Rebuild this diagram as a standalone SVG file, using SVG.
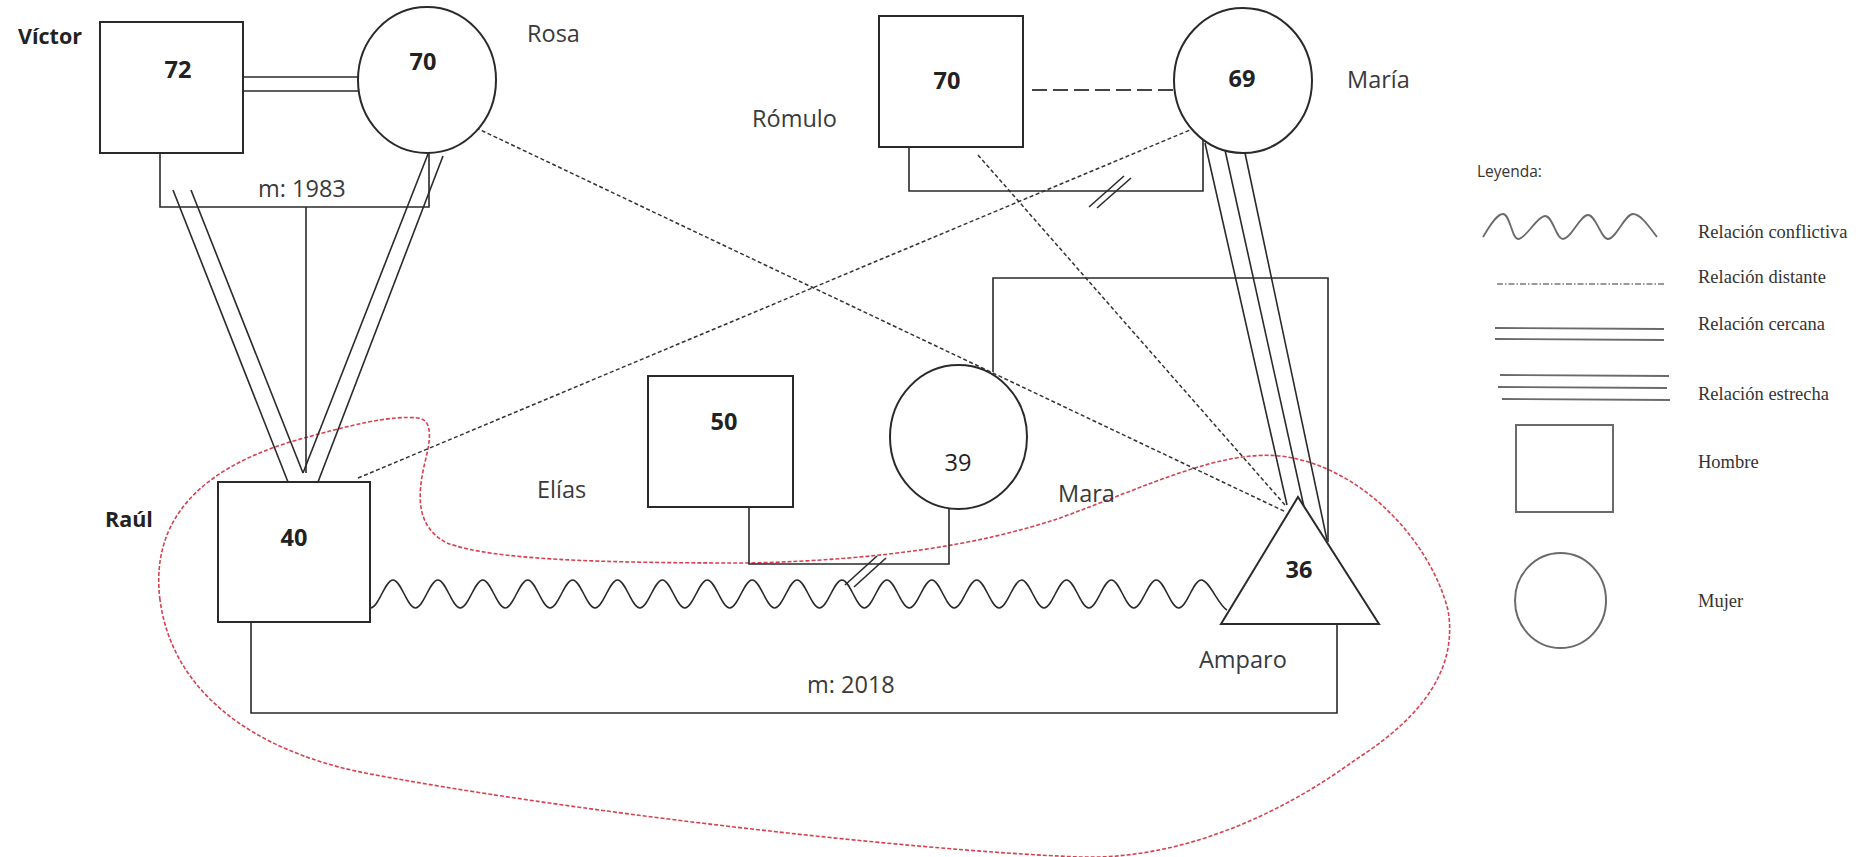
<svg xmlns="http://www.w3.org/2000/svg" width="1874" height="857" viewBox="0 0 1874 857">
  <style>
    .shape { fill: #ffffff; stroke: #2a2a2a; stroke-width: 2; }
    .line { fill: none; stroke: #2a2a2a; stroke-width: 1.6; }
    .distant { fill: none; stroke: #333333; stroke-width: 1.5; stroke-dasharray: 4 2.5; }
    .broken { fill: none; stroke: #444444; stroke-width: 1.8; stroke-dasharray: 15 6; }
    .boundary { fill: none; stroke: #d8404f; stroke-width: 1.6; stroke-dasharray: 4 2; }
    .name { font-family: "Open Sans", "Liberation Sans", sans-serif; font-size: 23.5px; fill: #3a3a3a; }
    .bname { font-family: "Open Sans", "Liberation Sans", sans-serif; font-size: 21.5px; font-weight: bold; fill: #222222; }
    .age { font-family: "Open Sans", "Liberation Sans", sans-serif; font-size: 23.5px; font-weight: bold; fill: #222222; text-anchor: middle; }
    .age-light { font-family: "Open Sans", "Liberation Sans", sans-serif; font-size: 23.5px; fill: #222222; text-anchor: middle; }
    .leg-line { fill: none; stroke: #6a6a6a; stroke-width: 1.8; }
    .leg-shape { fill: none; stroke: #6a6a6a; stroke-width: 2; }
    .leg-text { font-family: "Liberation Serif", "Times New Roman", serif; font-size: 18.5px; fill: #333333; }
    .leg-title { font-family: "Open Sans", "Liberation Sans", sans-serif; font-size: 15.5px; fill: #333333; }
  </style>

  <rect width="1874" height="857" fill="#ffffff"/>

  <!-- household boundary -->
  <path id="boundary" class="boundary" d="M160,600 C150,520 200,470 290,442 C350,425 390,415 418,418 C434,420 430,442 425,462 C418,492 414,526 447,543 C492,560 600,563 750,563 C880,560 980,545 1060,518 C1150,485 1220,450 1280,456 C1360,465 1430,540 1448,610 C1460,680 1405,728 1355,760 C1280,815 1180,860 1080,857 C900,850 560,810 365,773 C250,750 172,690 160,600 Z"/>

  <!-- relationships and family lines -->
  <g id="connectors">
    <!-- Víctor – Rosa: close -->
    <line class="line" x1="243" y1="77" x2="359" y2="77"/>
    <line class="line" x1="243" y1="91" x2="359" y2="91"/>
    <!-- marriage Víctor & Rosa -->
    <polyline class="line" points="160,153 160,207 429,207 429,153"/>
    <line class="line" x1="306" y1="207" x2="306" y2="473"/>
    <!-- Víctor – Raúl: close -->
    <line class="line" x1="173" y1="190" x2="288" y2="482"/>
    <line class="line" x1="191" y1="190" x2="303" y2="473"/>
    <!-- Rosa – Raúl: close -->
    <line class="line" x1="428" y1="154" x2="303" y2="473"/>
    <line class="line" x1="443" y1="156" x2="318" y2="482"/>

    <!-- Rómulo – María: broken -->
    <line class="broken" x1="1032" y1="90" x2="1182" y2="90"/>
    <!-- marriage Rómulo & María, divorced -->
    <polyline class="line" points="909,147 909,191 1203,191 1203,140"/>
    <line class="line" x1="1089" y1="207" x2="1124" y2="176"/>
    <line class="line" x1="1097" y1="208" x2="1131" y2="178"/>

    <!-- María – Amparo: very close -->
    <line class="line" x1="1205" y1="143" x2="1287" y2="505"/>
    <line class="line" x1="1225" y1="150" x2="1304" y2="507"/>
    <line class="line" x1="1245" y1="153" x2="1327" y2="540"/>

    <!-- distant -->
    <line class="distant" x1="470" y1="125" x2="1286" y2="512"/>
    <line class="distant" x1="978" y1="155" x2="1285" y2="505"/>
    <line class="distant" x1="358" y1="478" x2="1190" y2="130"/>

    <!-- Mara – Amparo -->
    <polyline class="line" points="993,372 993,278 1328,278 1328,542"/>

    <!-- Elías & Mara, divorced -->
    <polyline class="line" points="749,507 749,564 949,564 949,509"/>
    <line class="line" x1="845" y1="585" x2="877" y2="556"/>
    <line class="line" x1="854" y1="587" x2="886" y2="558"/>

    <!-- Raúl – Amparo: conflict -->
    <path class="line" d="M370.5,608 C378.7,608 384.8,580 393,580 S407.2,608 415.4,608 S429.7,580 437.9,580 S452.1,608 460.3,608 S474.6,580 482.8,580 S497,608 505.2,608 S519.5,580 527.7,580 S541.9,608 550.1,608 S564.4,580 572.6,580 S586.8,608 595,608 S609.3,580 617.5,580 S631.7,608 639.9,608 S654.2,580 662.4,580 S676.6,608 684.8,608 S699.1,580 707.3,580 S721.5,608 729.7,608 S744,580 752.2,580 S766.4,608 774.6,608 S788.9,580 797.1,580 S811.3,608 819.5,608 S833.8,580 842,580 S856.2,608 864.4,608 S878.7,580 886.9,580 S901.1,608 909.3,608 S923.6,580 931.8,580 S946,608 954.2,608 S968.5,580 976.7,580 S990.9,608 999.1,608 S1013.4,580 1021.6,580 S1035.8,608 1044,608 S1058.3,580 1066.5,580 S1080.7,608 1088.9,608 S1103.2,580 1111.4,580 S1125.6,608 1133.8,608 S1148.1,580 1156.3,580 S1170.5,608 1178.7,608 S1193,580 1201.2,580 S1218,605 1227,610"/>

    <!-- marriage Raúl & Amparo -->
    <polyline class="line" points="251,622 251,713 1337,713 1337,624"/>

    <text class="name" x="258" y="197">m: 1983</text>
    <text class="name" x="807" y="693">m: 2018</text>
  </g>

  <!-- people -->
  <g id="victor">
    <rect class="shape" x="100" y="22" width="143" height="131"/>
    <text class="age" x="178" y="78">72</text>
    <text class="bname" x="18" y="44">Víctor</text>
  </g>

  <g id="rosa">
    <ellipse class="shape" cx="427" cy="80" rx="69" ry="73"/>
    <text class="age" x="423" y="70">70</text>
    <text class="name" x="527" y="42">Rosa</text>
  </g>

  <g id="romulo">
    <rect class="shape" x="879" y="16" width="144" height="131"/>
    <text class="age" x="947" y="89">70</text>
    <text class="name" x="752" y="127">Rómulo</text>
  </g>

  <g id="maria">
    <ellipse class="shape" cx="1243" cy="80.5" rx="69" ry="72.5"/>
    <text class="age" x="1242" y="87">69</text>
    <text class="name" x="1347" y="88">María</text>
  </g>

  <g id="raul">
    <rect class="shape" x="218" y="482" width="152" height="140"/>
    <text class="age" x="294" y="546">40</text>
    <text class="bname" x="105" y="527">Raúl</text>
  </g>

  <g id="elias">
    <rect class="shape" x="648" y="376" width="145" height="131"/>
    <text class="age" x="724" y="430">50</text>
    <text class="name" x="537" y="498">Elías</text>
  </g>

  <g id="mara">
    <ellipse class="shape" cx="958.5" cy="437" rx="68.5" ry="72"/>
    <text class="age-light" x="958" y="471">39</text>
    <text class="name" x="1058" y="502">Mara</text>
  </g>

  <g id="amparo">
    <polygon class="shape" points="1298,497 1379,624 1221,624"/>
    <text class="age" x="1299" y="578">36</text>
    <text class="name" x="1199" y="668">Amparo</text>
  </g>

  <!-- key -->
  <g id="legend">
    <text class="leg-title" x="1477" y="177">Leyenda:</text>

    <path class="leg-line" d="M1483,237 C1490,225 1497,214 1503,214 C1510,214 1512,239 1518,239 C1526,239 1537,216 1545,216 C1553,216 1556,239 1563,239 C1571,239 1580,215 1588,215 C1596,215 1601,239 1608,239 C1616,239 1625,214 1633,214 C1641,214 1650,228 1657,237"/>
    <text class="leg-text" x="1698" y="238">Relación conflictiva</text>

    <line x1="1497" y1="284" x2="1665" y2="284" stroke="#777777" stroke-width="1.4" stroke-dasharray="6 2 1.5 2"/>
    <text class="leg-text" x="1698" y="283">Relación distante</text>

    <line class="leg-line" x1="1495" y1="328" x2="1664" y2="329"/>
    <line class="leg-line" x1="1495" y1="339" x2="1664" y2="340"/>
    <text class="leg-text" x="1698" y="330">Relación cercana</text>

    <line class="leg-line" x1="1500" y1="375" x2="1669" y2="376"/>
    <line class="leg-line" x1="1498" y1="387" x2="1667" y2="388"/>
    <line class="leg-line" x1="1502" y1="399" x2="1670" y2="400"/>
    <text class="leg-text" x="1698" y="400">Relación estrecha</text>

    <rect class="leg-shape" x="1516" y="425" width="97" height="87"/>
    <text class="leg-text" x="1698" y="468">Hombre</text>

    <ellipse class="leg-shape" cx="1560.5" cy="600.5" rx="45.5" ry="47.5"/>
    <text class="leg-text" x="1698" y="607">Mujer</text>
  </g>
</svg>
